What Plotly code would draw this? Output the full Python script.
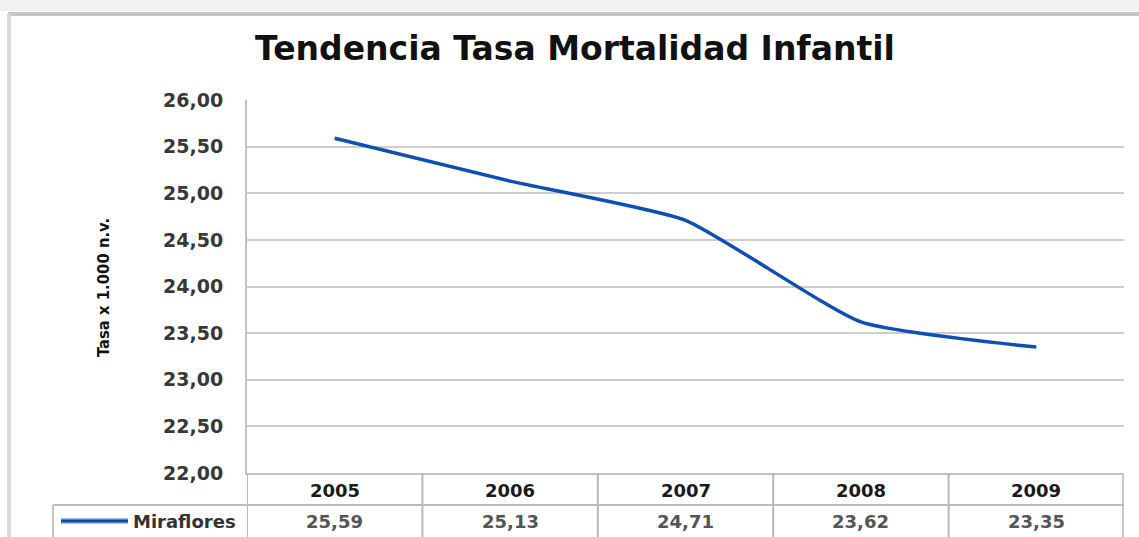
import plotly.graph_objects as go

# ---- data ----
years = ["2005", "2006", "2007", "2008", "2009"]
miraflores = [25.59, 25.13, 24.71, 23.62, 23.35]
series_name = "Miraflores"
y_ticks = [22.0, 22.5, 23.0, 23.5, 24.0, 24.5, 25.0, 25.5, 26.0]
title_text = "Tendencia Tasa Mortalidad Infantil"
y_title = "Tasa x 1.000 n.v."

W, H = 1139, 537
L, R, T, B = 247, 1124, 100, 473   # plot area in pixels


def X(px):
    return (px - L) / (R - L)


def Y(py):
    return (B - py) / (B - T)


idx = list(range(len(years)))

fig = go.Figure()
fig.add_trace(go.Scatter(
    x=idx, y=miraflores, mode="lines", name=series_name,
    line=dict(color="#0d4fb3", width=3.5, shape="spline", smoothing=0.5),
    showlegend=False, customdata=years, hovertemplate="%{customdata}: %{y}<extra></extra>",
))

shapes = []
# outer frame / shadow
shapes.append(dict(type="rect", xref="paper", yref="paper", x0=X(0), x1=X(W), y0=Y(0), y1=Y(11),
                   fillcolor="#f2f2f2", line=dict(width=0), layer="below"))
shapes.append(dict(type="line", xref="paper", yref="paper", x0=X(8), x1=X(W), y0=Y(14), y1=Y(14),
                   line=dict(color="#c6c6c6", width=4)))
shapes.append(dict(type="line", xref="paper", yref="paper", x0=X(9), x1=X(9), y0=Y(14), y1=Y(H + 5),
                   line=dict(color="#dadada", width=4)))

# data table grid
for i in range(len(years) + 1):
    xv = i - 0.5
    last = i == len(years)
    shapes.append(dict(type="line", xref="x", yref="paper", x0=xv, x1=xv, y0=Y(B), y1=Y(H + 5),
                       line=dict(color="#c8c8c8" if last else "#b8b8b8", width=4 if last else 2)))
shapes.append(dict(type="line", xref="paper", yref="paper", x0=X(53), x1=1, y0=Y(505), y1=Y(505),
                   line=dict(color="#bdbdbd", width=2)))
shapes.append(dict(type="line", xref="paper", yref="paper", x0=X(53), x1=X(53), y0=Y(505), y1=Y(H + 5),
                   line=dict(color="#c4c4c4", width=2)))
# legend key
shapes.append(dict(type="line", xref="paper", yref="paper", x0=X(61), x1=X(128), y0=Y(521), y1=Y(521),
                   line=dict(color="#9fc2ec", width=6)))
shapes.append(dict(type="line", xref="paper", yref="paper", x0=X(61), x1=X(128), y0=Y(521), y1=Y(521),
                   line=dict(color="#0d4aa8", width=3)))

ann = []
for i, (yr, v) in enumerate(zip(years, miraflores)):
    ann.append(dict(x=i, xref="x", y=Y(490), yref="paper", text="<b>%s</b>" % yr, showarrow=False,
                    font=dict(family="DejaVu Sans", size=18, color="#1a1a1a"), xanchor="center", yanchor="middle"))
    ann.append(dict(x=i, xref="x", y=Y(521), yref="paper", text="<b>%s</b>" % ("%.2f" % v).replace(".", ","),
                    showarrow=False, font=dict(family="DejaVu Sans", size=18, color="#555555"),
                    xanchor="center", yanchor="middle"))
ann.append(dict(x=X(131), xref="paper", y=Y(521), yref="paper", text="<b>%s</b>" % series_name, showarrow=False,
                font=dict(family="DejaVu Sans", size=18, color="#333333"), xanchor="left", yanchor="middle"))
ann.append(dict(x=X(103), xref="paper", y=Y(288), yref="paper", text="<b>%s</b>" % y_title, showarrow=False,
                textangle=-90,
                font=dict(family="Liberation Sans Narrow, DejaVu Sans Condensed, Liberation Sans", size=16.5,
                          color="#111111"),
                xanchor="center", yanchor="middle"))

fig.update_layout(
    width=W, height=H,
    margin=dict(l=L, r=W - R, t=T, b=H - B),
    paper_bgcolor="white", plot_bgcolor="white",
    separators=",.",
    title=dict(text="<b>%s</b>" % title_text, x=575 / W, xref="container", xanchor="center",
               y=1 - 48 / H, yref="container", yanchor="middle",
               font=dict(family="DejaVu Sans", size=33, color="#111111")),
    xaxis=dict(range=[-0.5, len(years) - 0.5], showticklabels=False, showgrid=False,
               ticks="", zeroline=False, showline=True, linecolor="#c2c2c2", linewidth=2, fixedrange=True),
    yaxis=dict(range=[22, 26], tickvals=y_ticks, tickformat=".2f", showgrid=True, gridcolor="#cdcdcd",
               gridwidth=2, zeroline=False, showline=True, linecolor="#c2c2c2", linewidth=2,
               ticks="", ticklabelstandoff=18,
               tickfont=dict(family="DejaVu Sans", size=19, color="#383838", weight="bold")),
    shapes=shapes, annotations=ann,
)

fig.write_html("out.html", config={"displayModeBar": False},
               post_script="document.body.style.margin='0';document.body.style.overflow='hidden';")
